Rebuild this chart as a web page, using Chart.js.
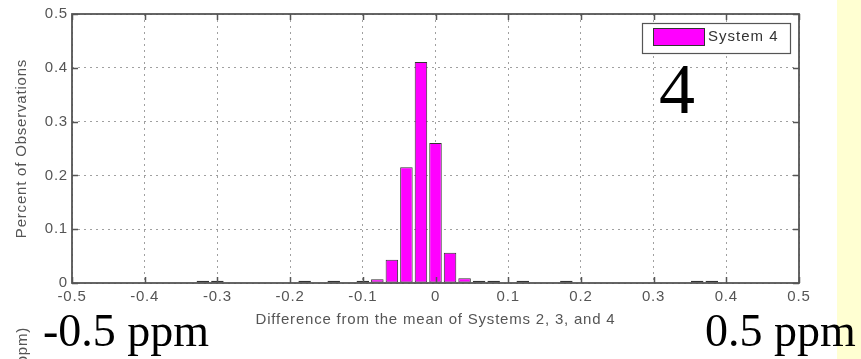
<!DOCTYPE html>
<html>
<head>
<meta charset="utf-8">
<script src="https://cdn.jsdelivr.net/npm/chart.js@4"></script>
<style>
  html, body { margin: 0; padding: 0; background: #fff; }
  #wrap { width: 861px; height: 359px; }
</style>
</head>
<body>
<div id="wrap"><canvas id="hist" width="861" height="359"></canvas></div>
<script>
// histogram bins (centre of each 0.02 wide bin) and fraction of observations
const binCenters = [-0.32, -0.30, -0.18, -0.14, -0.10, -0.08, -0.06, -0.04, -0.02, 0, 0.02, 0.04, 0.06, 0.08, 0.12, 0.18, 0.36, 0.38];
const percents   = [0.004, 0.004, 0.004, 0.004, 0.004, 0.007, 0.043, 0.215, 0.411, 0.26, 0.056, 0.009, 0.004, 0.004, 0.004, 0.004, 0.004, 0.004];

const xRange = [-0.5, 0.5];
const yRange = [0, 0.5];
const tickStep = 0.1;

const seriesLabel = 'System 4';
const xTitle = 'Difference from the mean of Systems 2, 3, and 4';
const yTitle = 'Percent of Observations';

const AXIS = '#555';
const TEXT = '#555';

function fmt(v) {
  if (Math.abs(v) < 1e-9) return '0';
  return v.toFixed(1);
}

const framePlugin = {
  id: 'matlabFrame',
  beforeDraw(chart) {
    const ctx = chart.ctx;
    ctx.save();
    ctx.fillStyle = '#fff';
    ctx.fillRect(0, 0, chart.width, chart.height);
    ctx.fillStyle = '#ffffd2';
    ctx.fillRect(837, 0, chart.width - 837, chart.height);
    ctx.restore();
    ctx.letterSpacing = '0.8px';
  },
  afterDraw(chart) {
    const ctx = chart.ctx;
    const a = chart.chartArea;
    const xs = chart.scales.x, ys = chart.scales.y;
    ctx.letterSpacing = '0px';

    ctx.save();
    // inward tick marks on all four sides
    ctx.strokeStyle = AXIS;
    ctx.lineWidth = 1.5;
    ctx.beginPath();
    xs.ticks.forEach(t => {
      const px = Math.round(xs.getPixelForValue(t.value)) + 0.5;
      ctx.moveTo(px, a.bottom); ctx.lineTo(px, a.bottom - 6);
      ctx.moveTo(px, a.top); ctx.lineTo(px, a.top + 6);
    });
    ys.ticks.forEach(t => {
      const py = Math.round(ys.getPixelForValue(t.value)) + 0.5;
      ctx.moveTo(a.left, py); ctx.lineTo(a.left + 6, py);
      ctx.moveTo(a.right, py); ctx.lineTo(a.right - 6, py);
    });
    ctx.stroke();

    // axes box
    ctx.lineWidth = 1.8;
    ctx.strokeRect(a.left, a.top, a.right - a.left, a.bottom - a.top);

    // legend
    const ds = chart.data.datasets[0];
    ctx.fillStyle = '#fff';
    ctx.fillRect(642, 23, 148, 30);
    ctx.lineWidth = 1.2;
    ctx.strokeStyle = AXIS;
    ctx.strokeRect(642.5, 23.5, 148, 30);
    ctx.fillStyle = ds.backgroundColor;
    ctx.fillRect(653, 28, 51, 17);
    ctx.strokeStyle = '#333';
    ctx.lineWidth = 1;
    ctx.strokeRect(653.5, 28.5, 51, 17);
    ctx.fillStyle = '#333';
    ctx.font = '15px "Liberation Sans", Arial, sans-serif';
    ctx.letterSpacing = '1px';
    ctx.textAlign = 'left';
    ctx.textBaseline = 'middle';
    ctx.fillText(ds.label, 708, 37);

    // axis titles
    ctx.fillStyle = TEXT;
    ctx.letterSpacing = '0.8px';
    ctx.textAlign = 'center';
    ctx.fillText(xTitle, (a.left + a.right) / 2, 320);
    ctx.save();
    ctx.translate(22, (a.top + a.bottom) / 2);
    ctx.rotate(-Math.PI / 2);
    ctx.fillText(yTitle, 0, 0);
    ctx.restore();

    // clipped label of the panel below
    ctx.save();
    ctx.translate(23, 327);
    ctx.rotate(-Math.PI / 2);
    ctx.textAlign = 'right';
    ctx.fillText('(ppm)', 0, 0);
    ctx.restore();

    // slide annotations
    ctx.letterSpacing = '0px';
    ctx.fillStyle = '#000';
    ctx.textAlign = 'left';
    ctx.textBaseline = 'alphabetic';
    ctx.font = '72px "Liberation Serif", "Times New Roman", serif';
    ctx.fillText('4', 659, 113);
    ctx.font = '46px "Liberation Serif", "Times New Roman", serif';
    ctx.fillText('-0.5 ppm', 43, 346);
    ctx.fillText('0.5 ppm', 705, 346);
    ctx.restore();
  }
};

new Chart(document.getElementById('hist'), {
  type: 'bar',
  data: {
    datasets: [{
      label: seriesLabel,
      data: binCenters.map((x, i) => ({ x, y: percents[i] })),
      backgroundColor: '#ff00ff',
      borderColor: '#333',
      borderWidth: 1,
      borderSkipped: false,
      categoryPercentage: 1,
      barPercentage: 0.86
    }]
  },
  options: {
    responsive: false,
    animation: false,
    devicePixelRatio: 1,
    layout: { padding: { top: 14, right: 62, left: 0, bottom: 0 } },
    plugins: { legend: { display: false }, tooltip: { enabled: false } },
    scales: {
      x: {
        type: 'linear',
        offset: false,
        min: xRange[0],
        max: xRange[1],
        afterFit: s => { s.height = 76; },
        ticks: {
          stepSize: tickStep,
          padding: 5,
          maxRotation: 0,
          autoSkip: false,
          color: TEXT,
          font: { family: '"Liberation Sans", Arial, sans-serif', size: 15 },
          callback: v => fmt(v)
        },
        grid: { offset: false, color: '#a0a0a0', lineWidth: 1, drawTicks: false },
        border: { display: false, dash: [2, 4] }
      },
      y: {
        min: yRange[0],
        max: yRange[1],
        afterFit: s => { s.width = 72; },
        ticks: {
          stepSize: tickStep,
          padding: 4,
          color: TEXT,
          font: { family: '"Liberation Sans", Arial, sans-serif', size: 15 },
          callback: v => fmt(v)
        },
        grid: { color: '#a0a0a0', lineWidth: 1, drawTicks: false },
        border: { display: false, dash: [2, 4] }
      }
    }
  },
  plugins: [framePlugin]
});
</script>
</body>
</html>
